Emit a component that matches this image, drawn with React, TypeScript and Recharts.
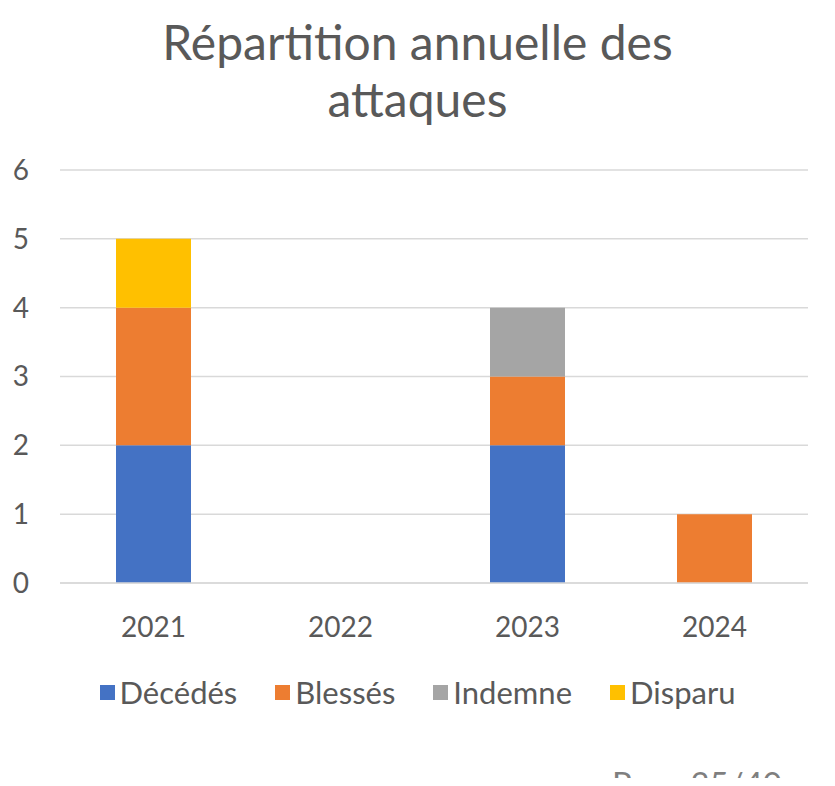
import React from 'react'
import { BarChart, Bar, XAxis, YAxis, CartesianGrid, Legend } from 'recharts'

const years = ['2021', '2022', '2023', '2024']
const decedes = [2, 0, 2, 0]
const blesses = [2, 0, 1, 1]
const indemne = [0, 0, 1, 0]
const disparu = [1, 0, 0, 0]
const yTicks = [0, 1, 2, 3, 4, 5, 6]

const series = [
  { key: 'decedes', name: 'Décédés', color: '#4472C4' },
  { key: 'blesses', name: 'Blessés', color: '#ED7D31' },
  { key: 'indemne', name: 'Indemne', color: '#A5A5A5' },
  { key: 'disparu', name: 'Disparu', color: '#FFC000' },
]

const data = years.map((y, i) => ({
  year: y,
  decedes: decedes[i],
  blesses: blesses[i],
  indemne: indemne[i],
  disparu: disparu[i],
}))

const FONT = 'Lato, "Open Sans", sans-serif'
const TEXT = '#595959'

function LegendContent() {
  return (
    <div style={{ display: 'flex', justifyContent: 'center', fontFamily: FONT, fontSize: 31, lineHeight: '36px', color: TEXT }}>
      {series.map((s, i) => (
        <div key={s.key} style={{ display: 'flex', alignItems: 'center', marginLeft: i === 0 ? 0 : 38 }}>
          <span style={{ width: 15, height: 15, background: s.color, display: 'inline-block', marginRight: 5 }} />
          <span>{s.name}</span>
        </div>
      ))}
    </div>
  )
}

export default function App() {
  return (
    <div style={{ position: 'relative', width: 835, height: 786, margin: -8, overflow: 'hidden', background: '#fff' }}>
      <div
        style={{
          position: 'absolute', top: 13, left: 0, width: 835, textAlign: 'center',
          fontFamily: FONT, fontSize: 48, lineHeight: '57px', color: TEXT,
        }}
      >
        Répartition annuelle des
        <br />
        attaques
      </div>
      <div style={{ position: 'absolute', top: 0, left: 0 }}>
        <BarChart
          width={835}
          height={786}
          data={data}
          margin={{ top: 170, right: 27, bottom: 0, left: 10 }}
          barSize={75}
        >
          <CartesianGrid vertical={false} stroke="#d9d9d9" strokeWidth={1.5} />
          <XAxis
            dataKey="year"
            axisLine={{ stroke: '#d9d9d9', strokeWidth: 1.5 }}
            tickLine={false}
            tickMargin={28}
            height={167}
            tick={{ fontFamily: FONT, fontSize: 28, fill: TEXT }}
          />
          <YAxis
            width={50}
            domain={[0, 6]}
            ticks={yTicks}
            axisLine={false}
            tickLine={false}
            tickMargin={25}
            tick={{ fontFamily: FONT, fontSize: 28, fill: TEXT }}
          />
          <Legend
            content={<LegendContent />}
            wrapperStyle={{ position: 'absolute', top: 674, left: 0, width: 835, bottom: 'auto' }}
          />
          {series.map(s => (
            <Bar key={s.key} dataKey={s.key} name={s.name} stackId="a" fill={s.color} isAnimationActive={false} />
          ))}
        </BarChart>
      </div>
      <div
        style={{
          position: 'absolute', top: 763, left: 612, fontFamily: FONT, fontSize: 33, color: '#7f7f7f',
          whiteSpace: 'nowrap',
        }}
      >
        Page 35/40
      </div>
    </div>
  )
}
